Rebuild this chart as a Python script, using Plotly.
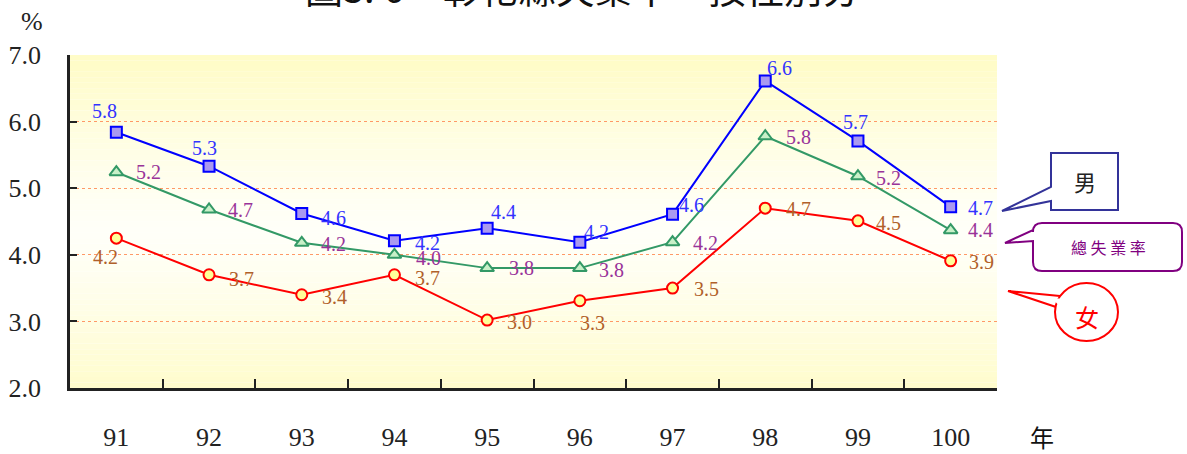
import plotly.graph_objects as go

# ---------------- data ----------------
years = ["91", "92", "93", "94", "95", "96", "97", "98", "99", "100"]
male = [5.84, 5.33, 4.62, 4.21, 4.40, 4.19, 4.61, 6.61, 5.71, 4.72]
total = [5.24, 4.68, 4.18, 4.00, 3.80, 3.80, 4.19, 5.78, 5.18, 4.37]
female = [4.25, 3.70, 3.40, 3.70, 3.02, 3.31, 3.50, 4.70, 4.51, 3.91]
male_labels = ["5.8", "5.3", "4.6", "4.2", "4.4", "4.2", "4.6", "6.6", "5.7", "4.7"]
total_labels = ["5.2", "4.7", "4.2", "4.0", "3.8", "3.8", "4.2", "5.8", "5.2", "4.4"]
female_labels = ["4.2", "3.7", "3.4", "3.7", "3.0", "3.3", "3.5", "4.7", "4.5", "3.9"]
y_ticks = [2.0, 3.0, 4.0, 5.0, 6.0, 7.0]

title_text = "圖3. 6　彰化縣失業率－按性別分"

# ---------------- label offsets (pixels: right, down) ----------------
male_off = [(-12, -21), (-5, -18), (32, 4), (33, 2), (16, -16), (17, -10), (19, -9),
            (14, -13), (-2, -19), (30, 1)]
total_off = [(32, 0), (31, 0), (32, 1), (34, 3), (34, 0), (32, 2), (33, 1), (33, 1),
             (31, 2), (30, 0)]
female_off = [(-11, 19), (32, 4), (33, 2), (33, 3), (32, 2), (13, 22), (34, 1), (33, 1),
              (31, 2), (31, 1)]

# ---------------- layout geometry ----------------
W, H = 1187, 454
ML, MR, MT, MB = 70, 190, 55, 66
PW, PH = W - ML - MR, H - MT - MB

def px(x, y):
    return (x - ML) / PW, (H - MB - y) / PH

SERIF = "Liberation Serif"
CJK = "Noto Sans CJK TC"

fig = go.Figure()
fig.add_trace(go.Scatter(
    x=years, y=male, mode="lines+markers",
    line=dict(color="#0000FF", width=2),
    marker=dict(symbol="square", size=11, color="#AA99F0", line=dict(color="#0000FF", width=2)),
    name="男", showlegend=False, cliponaxis=False))
fig.add_trace(go.Scatter(
    x=years, y=total, mode="lines+markers",
    line=dict(color="#339966", width=2),
    marker=dict(symbol="triangle-up", size=12, color="#C8F0C8", line=dict(color="#339966", width=2)),
    name="總失業率", showlegend=False, cliponaxis=False))
fig.add_trace(go.Scatter(
    x=years, y=female, mode="lines+markers",
    line=dict(color="#FF0000", width=2),
    marker=dict(symbol="circle", size=11, color="#FFFF99", line=dict(color="#FF0000", width=2)),
    name="女", showlegend=False, cliponaxis=False))

shapes = []
# gradient background (yellow at top & bottom, white in the middle)
N = 60
for i in range(N):
    y0, y1 = i / N, (i + 1) / N
    c = (y0 + y1) / 2
    t = min(1.0, abs(c - 0.47) / 0.5)
    t = t ** 1.3
    g = int(round(255 - 3 * t))
    b = int(round(248 - (248 - 200) * t))
    shapes.append(dict(type="rect", xref="paper", yref="paper", x0=0, x1=1, y0=y0, y1=y1,
                       fillcolor=f"rgb(255,{g},{b})", line=dict(width=0), layer="below"))

def P(x, y):
    X, Y = px(x, y)
    return f"{X:.5f},{Y:.5f}"

def path(points, close=True):
    s = ""
    for k, (x, y) in enumerate(points):
        s += ("M" if k == 0 else " L") + P(x, y)
    return s + (" Z" if close else "")

# 男 callout
shapes.append(dict(type="path", xref="paper", yref="paper",
                   path=path([(1051, 153), (1118, 153), (1118, 210), (1051, 210), (1051, 201),
                              (1002, 211), (1051, 187)]),
                   fillcolor="white", line=dict(color="#333399", width=2)))
# 總失業率 callout (rounded box)
def rpath():
    r = 9
    x0, x1, y0, y1 = 1033, 1182, 223, 271
    s = "M" + P(x0 + r, y0) + " L" + P(x1 - r, y0) + " Q" + P(x1, y0) + " " + P(x1, y0 + r)
    s += " L" + P(x1, y1 - r) + " Q" + P(x1, y1) + " " + P(x1 - r, y1)
    s += " L" + P(x0 + r, y1) + " Q" + P(x0, y1) + " " + P(x0, y1 - r)
    s += " L" + P(x0, 241) + " L" + P(1005, 243) + " L" + P(x0, 230)
    s += " L" + P(x0, y0 + r) + " Q" + P(x0, y0) + " " + P(x0 + r, y0) + " Z"
    return s
shapes.append(dict(type="path", xref="paper", yref="paper", path=rpath(),
                   fillcolor="white", line=dict(color="#800080", width=2)))
# 女 callout (ellipse + tail)
ex0, ey0 = px(1055, 283)
ex1, ey1 = px(1118, 341)
shapes.append(dict(type="circle", xref="paper", yref="paper", x0=ex0, x1=ex1, y0=ey1, y1=ey0,
                   fillcolor="white", line=dict(color="#FF0000", width=2)))
shapes.append(dict(type="path", xref="paper", yref="paper",
                   path=path([(1060, 296), (1008, 291), (1056, 307)], close=False),
                   line=dict(color="#FF0000", width=2)))
shapes.append(dict(type="path", xref="paper", yref="paper",
                   path=path([(1062, 298.5), (1052, 298.5), (1058, 304.5)]),
                   fillcolor="white", line=dict(color="white", width=0)))

annotations = []
def ann(text, x, y, size, color, family, xanchor="center", yanchor="middle"):
    X, Y = px(x, y)
    annotations.append(dict(text=text, x=X, y=Y, xref="paper", yref="paper", showarrow=False,
                            xanchor=xanchor, yanchor=yanchor,
                            font=dict(size=size, color=color, family=family)))

# data labels, anchored on the data through the category / value axes
for labels, vals, offs, col in [(male_labels, male, male_off, "#3333FF"),
                                (total_labels, total, total_off, "#993399"),
                                (female_labels, female, female_off, "#B0602A")]:
    for i, (v, lab, (dx, dy)) in enumerate(zip(vals, labels, offs)):
        annotations.append(dict(text=lab, x=i, y=v, xref="x", yref="y", showarrow=False,
                                xshift=dx, yshift=-dy, xanchor="center", yanchor="middle",
                                font=dict(family=SERIF, size=20, color=col)))

ann(title_text, 582, -13, 38, "#111111", CJK)
ann("%", 45, 21, 26, "#222222", SERIF, xanchor="right")
ann("年", 1042, 436, 24, "#111111", CJK)
ann("男", 1085, 181, 22, "#222222", CJK)
ann("總 失 業 率", 1108, 247, 16, "#800080", CJK)
ann("女", 1087, 316, 24, "#FF0000", CJK)

fig.update_layout(
    width=W, height=H,
    margin=dict(l=ML, r=MR, t=MT, b=MB, pad=0, autoexpand=False),
    paper_bgcolor="white", plot_bgcolor="rgba(0,0,0,0)",
    shapes=shapes, annotations=annotations,
    xaxis=dict(type="category", categoryorder="array", categoryarray=years,
               range=[-0.5, 9.5], tickson="boundaries", ticks="inside", ticklen=9,
               tickwidth=2, tickcolor="#222222", showline=True, linewidth=2.5,
               linecolor="#222222", showgrid=False, zeroline=False, automargin=False,
               tickfont=dict(family=SERIF, size=26, color="#222222"),
               ticklabelstandoff=24),
    yaxis=dict(range=[2, 7], tickvals=y_ticks, ticktext=[f"{v:.1f}" for v in y_ticks],
               ticks="inside", ticklen=7, tickwidth=2, tickcolor="#222222",
               showline=True, linewidth=2.5, linecolor="#222222", automargin=False,
               showgrid=True, gridcolor="#FF9966", griddash="dot", gridwidth=1,
               zeroline=False, tickfont=dict(family=SERIF, size=26, color="#222222"),
               ticklabelstandoff=21),
)

fig.write_html("out.html", config={"displayModeBar": False},
               post_script="document.body.style.margin='0';document.body.style.overflow='hidden';")
